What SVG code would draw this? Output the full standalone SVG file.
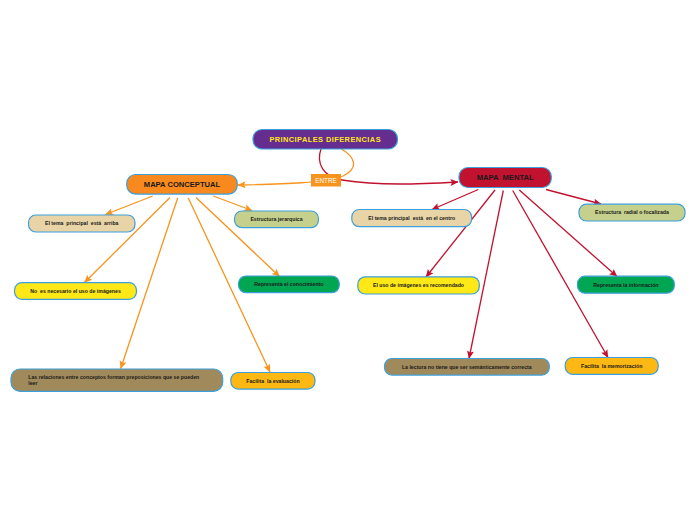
<svg xmlns="http://www.w3.org/2000/svg" width="696" height="520" viewBox="0 0 696 520">
<defs>
<style>
.box{stroke:#3d9fdb;stroke-width:1.2}
.main{font-family:"Liberation Sans",Arial,sans-serif;font-weight:bold;font-size:7.6px;fill:#1a1a1a;text-anchor:middle;white-space:pre}
.sm{font-family:"Liberation Sans",Arial,sans-serif;font-weight:bold;font-size:5.2px;fill:#1a1a1a;text-anchor:middle;white-space:pre}
.sml{font-family:"Liberation Sans",Arial,sans-serif;font-weight:bold;font-size:5.2px;fill:#1a1a1a;text-anchor:start;white-space:pre}
.or{fill:none;stroke:#f7941d;stroke-width:1.3}
.rd{fill:none;stroke:#c1122f;stroke-width:1.3}
</style>
<marker id="ao" markerUnits="userSpaceOnUse" markerWidth="8" markerHeight="7" refX="7.5" refY="3.5" orient="auto" overflow="visible">
<path d="M0,0 L8,3.5 L0,7 L1.5,3.5 z" fill="#f7941d"/>
</marker>
<marker id="ar" markerUnits="userSpaceOnUse" markerWidth="8" markerHeight="7" refX="7.5" refY="3.5" orient="auto" overflow="visible">
<path d="M0,0 L8,3.5 L0,7 L1.5,3.5 z" fill="#c1122f"/>
</marker>
</defs>
<rect width="696" height="520" fill="#ffffff"/>
<g id="connectors">
<path class="or" d="M341.5,149 C353,156 361,167 343,176 C325,183 285,184 238,185" marker-end="url(#ao)"/>
<path class="rd" d="M321,149 C316,163 323,177 342,180 C380,186 420,184 458,182" marker-end="url(#ar)"/>
<line class="or" x1="152.7" y1="196" x2="105.5" y2="214.5" marker-end="url(#ao)"/>
<line class="or" x1="213.3" y1="196" x2="252" y2="210.5" marker-end="url(#ao)"/>
<line class="or" x1="170" y1="197.5" x2="84.5" y2="282.5" marker-end="url(#ao)"/>
<line class="or" x1="196" y1="197.5" x2="279.5" y2="276.5" marker-end="url(#ao)"/>
<line class="or" x1="177.7" y1="198" x2="120.7" y2="368.5" marker-end="url(#ao)"/>
<line class="or" x1="188.3" y1="198" x2="270" y2="372" marker-end="url(#ao)"/>
<line class="rd" x1="478.3" y1="189.5" x2="432" y2="209.5" marker-end="url(#ar)"/>
<line class="rd" x1="546" y1="189.5" x2="601" y2="204" marker-end="url(#ar)"/>
<line class="rd" x1="495" y1="190" x2="426" y2="277" marker-end="url(#ar)"/>
<line class="rd" x1="519.3" y1="190" x2="617" y2="276.5" marker-end="url(#ar)"/>
<line class="rd" x1="503.3" y1="190.5" x2="469" y2="358.5" marker-end="url(#ar)"/>
<line class="rd" x1="512.7" y1="190.5" x2="608" y2="357.5" marker-end="url(#ar)"/>
</g>
<g id="entre">
<rect x="311" y="174" width="30" height="12.5" fill="#f7941d"/>
<text x="326" y="182.6" font-family="'Liberation Sans',Arial,sans-serif" font-size="6.4" fill="#ffffff" text-anchor="middle">ENTRE</text>
</g>
<g id="root">
<rect class="box" x="253" y="129.5" width="144.5" height="19.5" rx="9" fill="#662d91"/>
<text x="325.2" y="141.8" font-family="'Liberation Sans',Arial,sans-serif" font-weight="bold" font-size="7.4" letter-spacing="0.45" fill="#ffe817" text-anchor="middle">PRINCIPALES DIFERENCIAS</text>
</g>
<g id="mapa-conceptual">
<rect class="box" x="126.7" y="174.5" width="110.6" height="19.6" rx="9" fill="#f7891f"/>
<text class="main" x="182" y="187.2">MAPA CONCEPTUAL</text>
</g>
<g id="mapa-mental">
<rect class="box" x="459" y="167.5" width="92.3" height="20" rx="9" fill="#c1122f"/>
<text class="main" x="505.2" y="180.3">MAPA  MENTAL</text>
</g>
<g id="c-tema">
<rect class="box" x="28.5" y="215" width="106.5" height="17" rx="7.5" fill="#e8d4a6"/>
<text class="sm" x="81.7" y="224.6">El tema  principal  está  arriba</text>
</g>
<g id="c-estructura">
<rect class="box" x="234.5" y="211" width="84" height="16.7" rx="7.5" fill="#c4d08c"/>
<text class="sm" x="276.5" y="220.9">Estructura jerarquica</text>
</g>
<g id="c-imagenes">
<rect class="box" x="14.5" y="282.7" width="122" height="16.6" rx="7.5" fill="#ffe817"/>
<text class="sm" x="75.5" y="292.6">No  es necesario el uso de imágenes</text>
</g>
<g id="c-representa">
<rect class="box" x="238.5" y="276" width="100.8" height="16.7" rx="7.5" fill="#00a651"/>
<text class="sm" x="288.9" y="285.9">Representa el conocimiento</text>
</g>
<g id="c-relaciones">
<rect class="box" x="11" y="369" width="211.7" height="22.3" rx="9" fill="#a08a5b"/>
<text class="sml" x="28.3" y="378.6">Las relaciones entre conceptos forman preposiciones que se pueden</text>
<text class="sml" x="28.3" y="384.6">leer</text>
</g>
<g id="c-facilita">
<rect class="box" x="230.8" y="372.5" width="84.2" height="16.6" rx="7.5" fill="#fdb813"/>
<text class="sm" x="272.9" y="382.9">Facilita  la evaluación</text>
</g>
<g id="m-tema">
<rect class="box" x="351.8" y="209.5" width="119.8" height="17.2" rx="7.5" fill="#e8d4a6"/>
<text class="sm" x="411.7" y="219.9">El tema principal  está  en el centro</text>
</g>
<g id="m-estructura">
<rect class="box" x="579" y="204.2" width="106" height="16.8" rx="7.5" fill="#c4d08c"/>
<text class="sm" x="632" y="214.2">Estructura  radial o focalizada</text>
</g>
<g id="m-imagenes">
<rect class="box" x="357.8" y="276.8" width="121.5" height="17.2" rx="7.5" fill="#ffe817"/>
<text class="sm" x="418.5" y="286.9">El uso de imágenes es recomendado</text>
</g>
<g id="m-representa">
<rect class="box" x="577.5" y="276.2" width="96.8" height="17" rx="7.5" fill="#00a651"/>
<text class="sm" x="625.9" y="286.9">Representa la información</text>
</g>
<g id="m-lectura">
<rect class="box" x="384.5" y="358.5" width="164.8" height="16.6" rx="7.5" fill="#a08a5b"/>
<text class="sm" x="466.8" y="368.6">La lectura no tiene que ser semánticamente correcta</text>
</g>
<g id="m-facilita">
<rect class="box" x="565.2" y="357.5" width="93" height="16.8" rx="7.5" fill="#fdb813"/>
<text class="sm" x="611.7" y="367.6">Facilita  la memorización</text>
</g>
</svg>
